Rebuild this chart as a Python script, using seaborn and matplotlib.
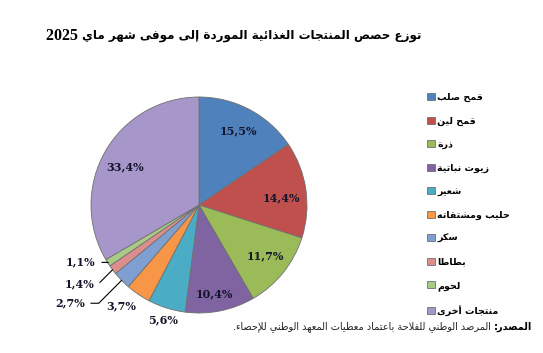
import re
import numpy as np
import matplotlib
matplotlib.use("Agg")
import matplotlib.pyplot as plt
import seaborn as sns

# Données (en %)
produits = ["قمح صلب", "قمح لين", "ذرة", "زيوت نباتية", "شعير",
            "حليب ومشتقاته", "سكر", "بطاطا", "لحوم", "منتجات أخرى"]
parts = [15.5, 14.4, 11.7, 10.4, 5.6, 3.7, 2.7, 1.4, 1.1, 33.4]
etiquettes = ["15,5%", "14,4%", "11,7%", "10,4%", "5,6%",
              "3,7%", "2,7%", "1,4%", "1,1%", "33,4%"]
couleurs = ["#4F81BD", "#C0504D", "#9BBB59", "#8064A2", "#4BACC6",
            "#F79646", "#7F9FD0", "#DB8E8C", "#AACB86", "#A796C9"]

titre = "توزع حصص المنتجات الغذائية الموردة إلى موفى شهر ماي"
annee = "2025"
source_gras = "المصدر:"
source_texte = "المرصد الوطني للفلاحة باعتماد معطيات المعهد الوطني للإحصاء."

# --- mise en forme de l'arabe (matplotlib ne fait pas le shaping) ---
FORMES = {
    'ء': (0xFE80, 1), 'آ': (0xFE81, 2), 'أ': (0xFE83, 2), 'ؤ': (0xFE85, 2),
    'إ': (0xFE87, 2), 'ئ': (0xFE89, 4), 'ا': (0xFE8D, 2), 'ب': (0xFE8F, 4),
    'ة': (0xFE93, 2), 'ت': (0xFE95, 4), 'ث': (0xFE99, 4), 'ج': (0xFE9D, 4),
    'ح': (0xFEA1, 4), 'خ': (0xFEA5, 4), 'د': (0xFEA9, 2), 'ذ': (0xFEAB, 2),
    'ر': (0xFEAD, 2), 'ز': (0xFEAF, 2), 'س': (0xFEB1, 4), 'ش': (0xFEB5, 4),
    'ص': (0xFEB9, 4), 'ض': (0xFEBD, 4), 'ط': (0xFEC1, 4), 'ظ': (0xFEC5, 4),
    'ع': (0xFEC9, 4), 'غ': (0xFECD, 4), 'ف': (0xFED1, 4), 'ق': (0xFED5, 4),
    'ك': (0xFED9, 4), 'ل': (0xFEDD, 4), 'م': (0xFEE1, 4), 'ن': (0xFEE5, 4),
    'ه': (0xFEE9, 4), 'و': (0xFEED, 2), 'ى': (0xFEEF, 2), 'ي': (0xFEF1, 4),
}
LAM_ALEF = {'آ': 0xFEF5, 'أ': 0xFEF7, 'إ': 0xFEF9, 'ا': 0xFEFB}


def arabe(s):
    jetons = []
    i = 0
    while i < len(s):
        c = s[i]
        if c == 'ل' and i + 1 < len(s) and s[i + 1] in LAM_ALEF:
            jetons.append((LAM_ALEF[s[i + 1]], 2))
            i += 2
        elif c in FORMES:
            jetons.append(FORMES[c])
            i += 1
        else:
            jetons.append((c, 0))
            i += 1
    sortie = []
    for k, (base, n) in enumerate(jetons):
        if n == 0:
            sortie.append(base)
            continue
        prev = k > 0 and jetons[k - 1][1] == 4 and n >= 2
        suiv = n == 4 and k + 1 < len(jetons) and jetons[k + 1][1] >= 2
        if prev and suiv:
            f = 3
        elif prev:
            f = 1
        elif suiv:
            f = 2
        else:
            f = 0
        sortie.append(chr(base + f))
    visuel = "".join(sortie)[::-1]
    return re.sub(r"[0-9]+", lambda m: m.group()[::-1], visuel)


sns.set_theme(style="white")
plt.rcParams['font.family'] = ['DejaVu Sans']
plt.rcParams['text.color'] = 'black'

fig = plt.figure(figsize=(5.43, 3.53), dpi=100)
fig.patch.set_facecolor("white")

# axe du camembert : centre (199,205) px, rayon 108 px
ax = fig.add_axes([91 / 543, (353 - 205 - 108) / 353, 216 / 543, 216 / 353])
wedges, _ = ax.pie(parts, colors=couleurs, startangle=90, counterclock=False,
                   wedgeprops=dict(edgecolor="#707070", linewidth=0.6))
ax.set_xlim(-1, 1)
ax.set_ylim(-1, 1)
ax.set_aspect("equal")
ax.axis("off")

police_pct = dict(family="DejaVu Serif", fontweight="bold", fontsize=8,
                  color="#14142a")
rayons = [0.78, 0.77, 0.77, 0.84, 1.12, 1.18, None, None, None, 0.77]
ecarts = [0, -3, 1.5, -1.3, 0, -3.5, 0, 0, 0, 2.7]
decalages = [None, None, None, None, None, None, (-26.5, -16.5), (-13, -10.5), (-8.6, 0.3)]

for k, w in enumerate(wedges):
    milieu = np.deg2rad((w.theta1 + w.theta2) / 2)
    if rayons[k] is not None:
        r = rayons[k]
        a = milieu + np.deg2rad(ecarts[k])
        ax.text(r * np.cos(a), r * np.sin(a), etiquettes[k],
                ha="center", va="center", **police_pct)
    else:
        ax.annotate(etiquettes[k], xy=(np.cos(milieu), np.sin(milieu)),
                    xytext=decalages[k], textcoords="offset points",
                    ha="right", va="center", **police_pct,
                    arrowprops=dict(arrowstyle="-", color="black", lw=0.8,
                                    shrinkA=2, shrinkB=0,
                                    connectionstyle="angle,angleA=0,angleB=45,rad=0"))

# légende
fig.legend(wedges, [arabe(p) for p in produits], loc="upper left",
           bbox_to_anchor=(427 / 543, 1 - 93 / 353), frameon=False,
           borderpad=0, borderaxespad=0, handlelength=0.8, handleheight=0.8,
           handletextpad=0.3, labelspacing=1.52,
           prop=dict(family="DejaVu Sans", weight="bold", size=6.8))

# titre : partie arabe + année en serif
t_titre = fig.text(422 / 543, 1 - 35 / 353, arabe(titre), ha="right", va="center",
                   fontsize=8.6, fontweight="bold")
ax.annotate(annee + " ", xy=(0, 0.45), xycoords=t_titre, ha="right", va="center",
            fontsize=11.5, fontweight="bold", family="Liberation Serif")

# source
t_gras = fig.text(532 / 543, 1 - 327 / 353, arabe(source_gras), ha="right",
                  va="center", fontsize=7, fontweight="bold")
ax.annotate(arabe(source_texte) + " ", xy=(0, 0.5), xycoords=t_gras,
            ha="right", va="center", fontsize=7, color="#222222")

fig.savefig("out.png", dpi=100)
